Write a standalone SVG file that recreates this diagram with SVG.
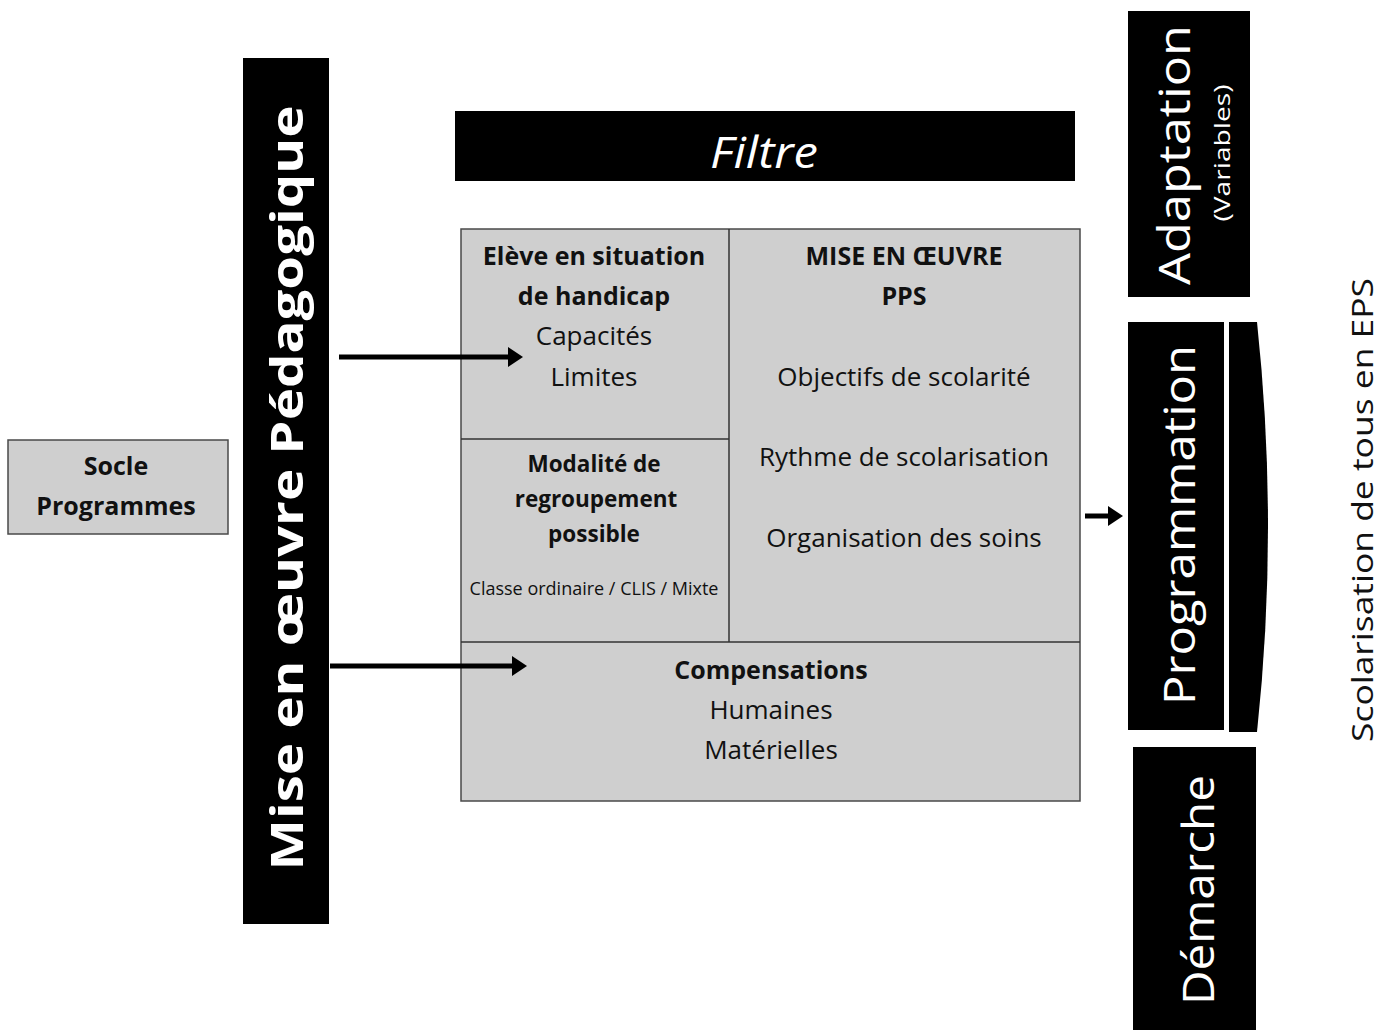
<svg xmlns="http://www.w3.org/2000/svg" width="1389" height="1030" viewBox="0 0 1389 1030">
<style>
.box{fill:#cfcfcf;stroke:#4a4a4a;stroke-width:1.5}
.bar{fill:#000}
.t{font-family:"Open Sans","Liberation Sans",sans-serif;font-size:26px;fill:#111;text-anchor:middle}
.b{font-weight:bold;font-size:25px}
.m{font-size:22.5px}
.w{fill:#fff}
.ln{stroke:#333;stroke-width:1.5;fill:none}
.arr{stroke:#000;stroke-width:5;fill:none}
</style>
<defs>
<marker id="ah" markerWidth="4" markerHeight="4" refX="0" refY="2" orient="auto" markerUnits="strokeWidth" viewBox="0 0 4 4">
<path d="M0,0 L3,2 L0,4 Z" fill="#000"/>
</marker>
</defs>
<rect width="1389" height="1030" fill="#fff"/>

<g id="socle">
<rect class="box" x="8" y="440" width="220" height="94"/>
<text class="t b" x="116" y="475">Socle</text>
<text class="t b" x="116" y="515">Programmes</text>
</g>

<g id="mise-en-oeuvre">
<rect class="bar" x="243" y="58" width="86" height="866"/>
<text class="t b w" transform="translate(286,488) rotate(-90)" x="0" y="17" style="font-size:44px" textLength="765" lengthAdjust="spacingAndGlyphs">Mise en œuvre Pédagogique</text>
</g>

<g id="filtre">
<rect class="bar" x="455" y="111" width="620" height="70"/>
<text class="t w" x="764" y="168" style="font-size:44px;font-style:italic" textLength="108" lengthAdjust="spacingAndGlyphs">Filtre</text>
</g>

<g id="main">
<rect class="box" x="461" y="229" width="619" height="572"/>
<line class="ln" x1="729" y1="229" x2="729" y2="642"/>
<line class="ln" x1="461" y1="439" x2="729" y2="439"/>
<line class="ln" x1="461" y1="642" x2="1080" y2="642"/>
</g>

<g id="eleve">
<text class="t b" x="594" y="265">Elève en situation</text>
<text class="t b" x="594" y="305">de handicap</text>
<text class="t" x="594" y="345">Capacités</text>
<text class="t" x="594" y="386">Limites</text>
</g>

<g id="pps">
<text class="t b" x="904" y="265">MISE EN ŒUVRE</text>
<text class="t b" x="904" y="305">PPS</text>
<text class="t" x="904" y="386">Objectifs de scolarité</text>
<text class="t" x="904" y="466">Rythme de scolarisation</text>
<text class="t" x="904" y="547">Organisation des soins</text>
</g>

<g id="modalite">
<text class="t b m" x="594" y="472">Modalité de</text>
<text class="t b m" x="596" y="507">regroupement</text>
<text class="t b m" x="594" y="542">possible</text>
<text class="t" x="594" y="595" style="font-size:18px">Classe ordinaire / CLIS / Mixte</text>
</g>

<g id="compensations">
<text class="t b" x="771" y="679">Compensations</text>
<text class="t" x="771" y="719">Humaines</text>
<text class="t" x="771" y="759">Matérielles</text>
</g>

<g id="adaptation">
<rect class="bar" x="1128" y="11" width="122" height="286"/>
<text class="t w" transform="translate(1172,155) rotate(-90)" x="0" y="18" style="font-size:44px" textLength="260" lengthAdjust="spacingAndGlyphs">Adaptation</text>
<text class="t w" transform="translate(1222,153) rotate(-90)" x="0" y="8" style="font-size:22px" textLength="137" lengthAdjust="spacingAndGlyphs">(Variables)</text>
</g>

<g id="programmation">
<rect class="bar" x="1128" y="322" width="96" height="408"/>
<path class="bar" d="M1229,322 L1257,322 Q1279,527 1257,732 L1229,732 Z"/>
<text class="t w" transform="translate(1178,525) rotate(-90)" x="0" y="17" style="font-size:44px" textLength="360" lengthAdjust="spacingAndGlyphs">Programmation</text>
</g>

<g id="demarche">
<rect class="bar" x="1133" y="747" width="123" height="283"/>
<text class="t w" transform="translate(1196,890) rotate(-90)" x="0" y="18" style="font-size:44px" textLength="230" lengthAdjust="spacingAndGlyphs">Démarche</text>
</g>

<g id="scolarisation">
<text class="t" transform="translate(1362,510) rotate(-90)" x="0" y="11" style="font-size:29px" textLength="464" lengthAdjust="spacingAndGlyphs">Scolarisation de tous en EPS</text>
</g>

<g id="connectors">
<line class="arr" x1="339" y1="357" x2="508" y2="357" marker-end="url(#ah)"/>
<line class="arr" x1="330" y1="666" x2="512" y2="666" marker-end="url(#ah)"/>
<line class="arr" x1="1085" y1="516" x2="1108" y2="516" stroke-width="4" marker-end="url(#ah)"/>
</g>
</svg>
